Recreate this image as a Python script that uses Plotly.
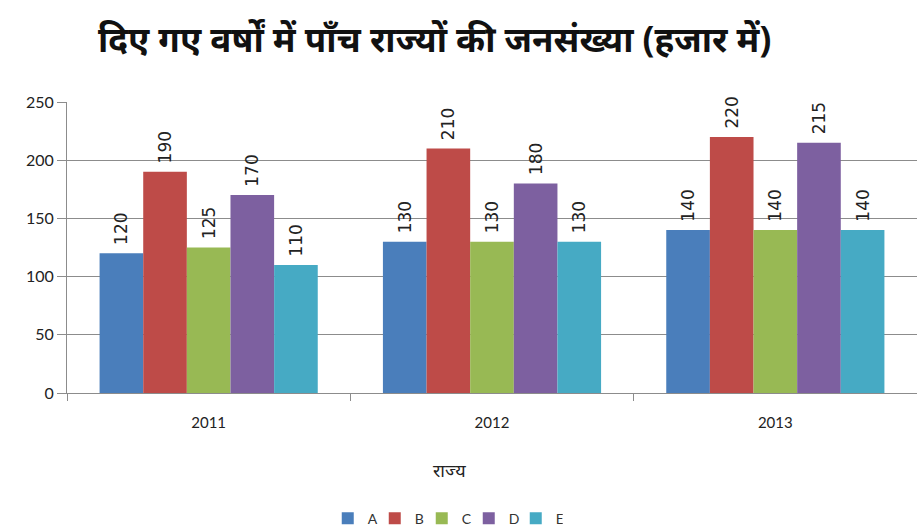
import plotly.graph_objects as go

years = ["2011", "2012", "2013"]
states = ["A", "B", "C", "D", "E"]
values = {
    "A": [120, 130, 140],
    "B": [190, 210, 220],
    "C": [125, 130, 140],
    "D": [170, 180, 215],
    "E": [110, 130, 140],
}
colors = {
    "A": "#4a7ebb",
    "B": "#be4b48",
    "C": "#98b954",
    "D": "#7d60a0",
    "E": "#46aac4",
}
x_title = "राज्य"
chart_title = "दिए गए वर्षों में पाँच राज्यों की जनसंख्या (हजार में)"

fig = go.Figure()
for s in states:
    fig.add_trace(go.Bar(
        x=years, y=values[s], name=s,
        marker=dict(color=colors[s], line=dict(width=0)),
        # a non-breaking space lifts the rotated value a little off the bar
        text=["\u00a0" + str(v) for v in values[s]],
        textposition="outside", textangle=-90,
        cliponaxis=False,
        textfont=dict(family="DejaVu Sans", size=17, color="#222"),
    ))

fig.update_layout(
    width=917, height=532,
    margin=dict(l=67, r=0, t=102, b=139, autoexpand=False),
    paper_bgcolor="white", plot_bgcolor="white",
    barmode="group", bargap=0.23, bargroupgap=0,
    title=dict(
        text=f"<b>{chart_title}</b>",
        x=0.474, xanchor="center", y=0.925, yanchor="middle",
        font=dict(family="Noto Sans", size=35, color="#111"),
    ),
    font=dict(family="Lato", color="#222"),
    showlegend=True,
    legend=dict(
        orientation="h", x=0.445, xanchor="center",
        yref="container", y=0.025, yanchor="middle",
        font=dict(size=14, color="#333"), itemwidth=30,
        entrywidth=2, entrywidthmode="pixels",
    ),
    annotations=[dict(
        text=x_title, xref="paper", yref="paper", x=0.45, y=-0.265,
        xanchor="center", yanchor="middle", showarrow=False,
        font=dict(family="Noto Sans", size=18, color="#222"),
    )],
    uniformtext=dict(mode=False),
)
fig.update_xaxes(
    automargin=False,
    showline=True, linecolor="#8c8c8c", linewidth=1,
    ticks="outside", tickson="boundaries", ticklen=7, tickcolor="#8c8c8c",
    showgrid=False, ticklabelstandoff=16,
    tickfont=dict(size=15, color="#222"),
)
fig.update_yaxes(
    automargin=False,
    range=[0, 250], dtick=50, showline=True, linecolor="#8c8c8c", linewidth=1,
    showgrid=True, gridcolor="#8c8c8c", gridwidth=1,
    ticks="outside", ticklen=9, tickcolor="#8c8c8c",
    tickfont=dict(size=16, color="#222"), zeroline=False,
)

fig.write_html("out.html")
